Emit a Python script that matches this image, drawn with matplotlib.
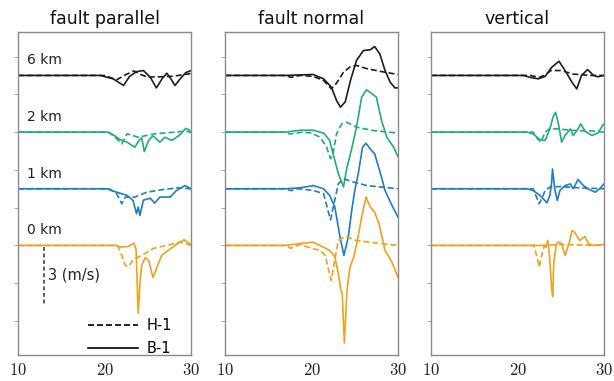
import matplotlib
matplotlib.use("Agg")
import matplotlib.pyplot as plt
from matplotlib.lines import Line2D
from matplotlib.ticker import FuncFormatter

plt.rcParams["mathtext.fontset"] = "cm"

components = ["fault parallel", "fault normal", "vertical"]
stations = ["6 km", "2 km", "1 km", "0 km"]
offsets = [9, 6, 3, 0]
colors = ["#1e1e1e", "#22ad7a", "#1f7dc4", "#efa21c"]

# ---- fault parallel ----
fp6_b1_t = [10, 19.5, 21.0, 22.2, 22.9, 23.7, 24.5, 25.3, 26.0, 26.7, 27.2, 27.7, 28.15, 28.8, 29.4, 30]
fp6_b1_v = [0, 0, -0.18, -0.53, -0.05, 0.2, 0.26, -0.1, -0.66, -0.15, 0.12, -0.2, -0.53, -0.15, 0.15, 0.26]
fp6_h1_t = [10, 20.0, 21.4, 22.5, 23.4, 24.2, 24.9, 26.0, 28.0, 29.2, 30]
fp6_h1_v = [0, 0, -0.23, 0.05, 0.24, 0.05, -0.08, -0.08, -0.04, 0.05, 0.1]

fp2_b1_t = [10, 20.3, 21.0, 21.8, 22.6, 23.5, 24.0, 24.3, 24.6, 25.1, 25.6, 26.4, 27.0, 27.8, 28.7, 29.4, 29.8, 30]
fp2_b1_v = [0, 0, -0.14, -0.4, -0.53, -0.8, -0.44, -0.3, -1.03, -0.44, -0.2, -0.53, -0.27, -0.44, -0.15, 0.2, 0.1, 0.0]
fp2_h1_t = [10, 20.5, 21.4, 22.0, 22.6, 23.9, 25.8, 27.7, 29.2, 30]
fp2_h1_v = [0, 0, -0.35, -0.62, -0.09, -0.27, -0.09, -0.02, 0.05, 0.0]

fp1_b1_t = [10, 20.3, 21.4, 22.6, 23.3, 23.7, 23.9, 24.1, 24.5, 24.9, 25.3, 25.8, 26.4, 27.6, 28.3, 29.3, 30]
fp1_b1_v = [0, 0, -0.18, -0.35, -0.62, -1.32, -0.97, -1.41, -0.6, -0.55, -0.5, -0.76, -0.44, -0.44, -0.1, 0.17, 0.0]
fp1_h1_t = [10, 20.5, 21.4, 22.0, 22.4, 23.5, 24.9, 26.8, 28.5, 30]
fp1_h1_v = [0, 0, -0.26, -0.79, -0.44, -0.44, -0.18, -0.04, 0.05, 0.0]

fp0_b1_t = [10, 21.3, 21.8, 22.8, 23.4, 23.65, 23.9, 24.1, 24.3, 24.7, 25.1, 25.6, 26.0, 26.6, 27.6, 28.3, 29.2, 30]
fp0_b1_v = [0, 0, -0.09, -0.05, 0.12, -0.2, -3.6, -2.0, -1.06, -0.65, -0.79, -1.7, -1.23, -0.53, -0.18, 0.05, 0.3, 0.05]
fp0_h1_t = [10, 21.5, 22.0, 22.4, 22.8, 23.3, 24.2, 25.7, 27.2, 28.7, 30]
fp0_h1_v = [0, 0, -0.53, -1.06, -1.1, -0.75, -0.55, -0.15, 0.0, 0.18, 0.0]

# ---- fault normal ----
fn6_b1_t = [10, 17.0, 18.7, 20.2, 21.4, 22.3, 22.9, 23.35, 23.9, 24.5, 25.2, 26.0, 26.8, 27.3, 27.9, 28.5, 29.1, 29.65, 30]
fn6_b1_v = [0, 0, 0.03, 0.05, -0.18, -0.62, -1.33, -1.68, -1.4, -0.27, 0.79, 1.32, 1.36, 1.53, 1.14, 0.26, -0.36, -0.66, -0.66]
fn6_h1_t = [10, 17.0, 17.6, 18.7, 20.2, 21.4, 22.3, 22.9, 23.7, 24.5, 25.2, 26.4, 27.9, 30]
fn6_h1_v = [0, 0, -0.1, 0.0, -0.05, -0.27, -0.71, -0.4, 0.17, 0.47, 0.53, 0.36, 0.22, 0.05]

fn2_b1_t = [10, 17.0, 18.7, 20.2, 21.4, 22.1, 22.5, 23.1, 23.7, 24.1, 24.6, 25.2, 25.8, 26.35, 27.0, 27.5, 28.1, 28.7, 29.5, 30]
fn2_b1_v = [0, 0, 0.1, 0.1, -0.05, -0.44, -1.15, -2.2, -2.9, -1.86, -0.97, 0.26, 1.85, 2.24, 2.03, 1.85, 0.61, -0.27, -0.8, -1.3]
fn2_h1_t = [10, 17.0, 17.5, 19.0, 20.0, 21.0, 21.75, 22.2, 22.5, 22.9, 23.5, 24.1, 25.2, 27.2, 30]
fn2_h1_v = [0, 0, -0.1, 0.0, -0.05, -0.27, -0.8, -1.41, -1.1, -0.09, 0.44, 0.52, 0.26, 0.08, -0.05]

fn1_b1_t = [10, 17.0, 18.7, 20.2, 21.4, 22.1, 22.7, 23.3, 23.75, 24.25, 24.65, 25.0, 25.4, 25.9, 26.3, 26.8, 27.3, 28.1, 28.5, 29.3, 30]
fn1_b1_v = [0, 0, 0.05, 0.17, 0.0, -0.35, -0.97, -2.56, -3.53, -2.56, -1.15, -0.09, 0.79, 2.2, 2.41, 2.1, 1.85, 0.61, -0.09, -0.88, -1.5]
fn1_h1_t = [10, 17.0, 17.6, 18.5, 20.2, 21.4, 21.9, 22.2, 22.6, 23.1, 23.7, 24.9, 26.4, 30]
fn1_h1_v = [0, 0, -0.1, 0.0, -0.09, -0.26, -1.15, -1.64, -0.79, 0.26, 0.53, 0.35, 0.17, 0.0]

fn0_b1_t = [10, 17.0, 18.7, 20.2, 21.4, 22.1, 22.7, 23.1, 23.4, 23.55, 23.8, 24.1, 24.45, 24.9, 25.3, 25.8, 26.3, 26.8, 27.3, 27.8, 28.5, 29.3, 30]
fn0_b1_v = [0, 0, 0.1, 0.17, -0.1, -0.26, -0.6, -1.5, -2.38, -2.5, -5.17, -2.38, -1.15, -0.6, 0.26, 1.5, 2.56, 2.03, 1.76, 1.15, -0.26, -0.88, -1.68]
fn0_h1_t = [10, 17.0, 17.6, 18.7, 20.2, 21.0, 21.6, 21.9, 22.3, 22.6, 23.1, 23.9, 25.2, 27.9, 30]
fn0_h1_v = [0, 0, -0.15, 0.05, -0.18, -0.26, -0.53, -1.15, -1.85, -1.0, 0.26, 0.48, 0.26, 0.1, 0.0]

# ---- vertical ----
vz6_b1_t = [10, 20.7, 21.45, 22.4, 23.2, 23.95, 24.8, 25.5, 26.3, 26.85, 27.4, 28.1, 28.8, 29.3, 30]
vz6_b1_v = [0, 0, -0.1, -0.18, -0.05, 0.43, 0.75, 0.26, -0.36, -0.71, 0.0, 0.31, 0.0, -0.07, 0.0]
vz6_h1_t = [10, 21.5, 22.5, 23.1, 23.85, 25.0, 26.5, 28.5, 30]
vz6_h1_v = [0, 0, -0.1, 0.0, 0.26, 0.26, 0.07, 0.0, 0.0]

vz2_b1_t = [10, 21.1, 21.8, 22.6, 23.2, 23.75, 24.1, 24.4, 24.7, 25.1, 25.5, 26.1, 26.45, 27.0, 27.3, 27.8, 28.6, 29.3, 29.9, 30]
vz2_b1_v = [0, 0, -0.09, -0.41, -0.44, 0.17, 0.79, 1.05, 0.52, -0.53, -0.18, 0.17, -0.18, 0.17, 0.44, 0.05, -0.18, -0.05, 0.4, 0.4]
vz2_h1_t = [10, 21.8, 22.3, 22.7, 23.2, 23.75, 25.0, 27.0, 28.5, 30]
vz2_h1_v = [0, 0, -0.35, -0.53, 0.0, 0.2, 0.15, 0.07, 0.07, 0.0]

vz1_b1_t = [10, 21.1, 21.8, 22.6, 23.4, 23.75, 23.95, 24.05, 24.3, 24.6, 24.9, 25.5, 26.1, 26.45, 27.0, 27.6, 28.1, 29.0, 29.5, 30]
vz1_b1_v = [0, 0, -0.09, -0.35, -0.74, -0.35, 0.35, 1.05, 0.0, -0.62, -0.09, 0.17, 0.26, 0.0, 0.49, 0.18, 0.0, -0.18, 0.0, 0.26]
vz1_h1_t = [10, 21.8, 22.2, 22.5, 22.8, 23.2, 23.75, 25.0, 27.0, 30]
vz1_h1_v = [0, 0, -0.44, -0.79, -0.53, -0.09, 0.09, 0.12, 0.05, 0.0]

vz0_b1_t = [10, 23.0, 23.3, 23.5, 23.7, 23.95, 24.07, 24.2, 24.5, 24.8, 25.1, 25.5, 25.7, 26.1, 26.3, 26.6, 27.2, 27.8, 28.2, 28.8, 30]
vz0_b1_v = [0, 0, -0.1, 0.26, -0.53, -2.3, -2.7, -0.88, 0.09, 0.18, 0.1, -0.53, -0.26, 0.35, 0.79, 0.7, 0.26, 0.48, 0.09, 0.0, 0.05]
vz0_h1_t = [10, 21.9, 22.3, 22.5, 22.8, 23.1, 25.0, 30]
vz0_h1_v = [0, 0, -0.7, -1.15, -0.53, 0.0, 0.05, 0.0]

# per panel, per station (top to bottom): (H-1 t, H-1 v, B-1 t, B-1 v)
panels = [
    [(fp6_h1_t, fp6_h1_v, fp6_b1_t, fp6_b1_v),
     (fp2_h1_t, fp2_h1_v, fp2_b1_t, fp2_b1_v),
     (fp1_h1_t, fp1_h1_v, fp1_b1_t, fp1_b1_v),
     (fp0_h1_t, fp0_h1_v, fp0_b1_t, fp0_b1_v)],
    [(fn6_h1_t, fn6_h1_v, fn6_b1_t, fn6_b1_v),
     (fn2_h1_t, fn2_h1_v, fn2_b1_t, fn2_b1_v),
     (fn1_h1_t, fn1_h1_v, fn1_b1_t, fn1_b1_v),
     (fn0_h1_t, fn0_h1_v, fn0_b1_t, fn0_b1_v)],
    [(vz6_h1_t, vz6_h1_v, vz6_b1_t, vz6_b1_v),
     (vz2_h1_t, vz2_h1_v, vz2_b1_t, vz2_b1_v),
     (vz1_h1_t, vz1_h1_v, vz1_b1_t, vz1_b1_v),
     (vz0_h1_t, vz0_h1_v, vz0_b1_t, vz0_b1_v)],
]

W, H = 614, 381
fig = plt.figure(figsize=(W / 100, H / 100), dpi=100)
lefts = [18, 225, 431]

for k, (comp, traces) in enumerate(zip(components, panels)):
    ax = fig.add_axes([lefts[k] / W, 1 - 355 / H, 173 / W, 323 / H])
    for off, col, (ht, hv, bt, bv) in zip(offsets, colors, traces):
        ax.plot(ht, [v + off for v in hv], color=col, lw=1.2, ls="--", dashes=(3.6, 1.8),
                dash_joinstyle="round")
        ax.plot(bt, [v + off for v in bv], color=col, lw=1.2, solid_joinstyle="round")

    ax.set_xlim(10, 30)
    ax.set_ylim(-5.8, 11.3)
    ax.set_xticks([10, 20, 30])
    ax.xaxis.set_major_formatter(FuncFormatter(lambda x, _: rf"${x:.0f}$"))
    ax.tick_params(axis="x", length=0, labelsize=12, pad=4, labelcolor="#222222")
    ax.set_yticks(range(-4, 11, 2))
    ax.tick_params(axis="y", length=3, width=0.6, color="#999999", labelleft=False)
    for sp in ax.spines.values():
        sp.set_color("#8a8a8a")
        sp.set_linewidth(1.0)
    ax.set_title(comp, fontsize=12.5, pad=6, color="#111111")

    if k == 0:
        for name, off in zip(stations, offsets):
            ax.text(11.0, off + 0.8, name, fontsize=10, va="center", ha="left", color="#222222")
        # 3 m/s scale bar
        ax.plot([13, 13], [-0.1, -3.1], color="#333333", lw=1.1, ls=(0, (2.5, 1.8)))
        ax.text(13.45, -1.55, "3 (m/s)", fontsize=10.5, va="center", ha="left", color="#222222")
        handles = [Line2D([], [], color="k", lw=1.2, ls="--", dashes=(3.6, 1.8)),
                   Line2D([], [], color="k", lw=1.2)]
        ax.legend(handles, ["H-1", "B-1"], loc="lower right", bbox_to_anchor=(0.925, -0.02),
                  frameon=False, fontsize=10.5, handlelength=3.4, handletextpad=0.6,
                  labelspacing=0.53, borderaxespad=0)

fig.savefig("out.png", dpi=100)
